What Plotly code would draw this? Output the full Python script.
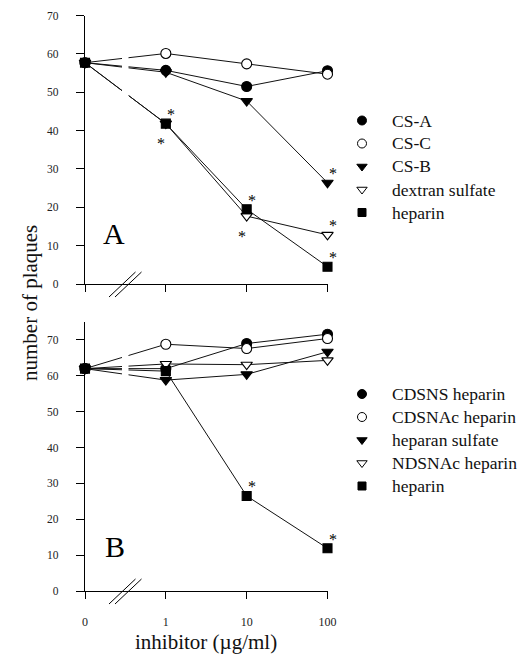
import plotly.graph_objects as go

# page offset (default body margin of the html page)
OFF = 8
W, H = 531 - OFF, 655 - OFF

# ---------------- data ----------------
x_labels = ["0", "1", "10", "100"]
y_ticks = [0, 10, 20, 30, 40, 50, 60, 70]

names_a = ["CS-A", "CS-C", "CS-B", "dextran sulfate", "heparin"]
cs_a = [57.7, 55.7, 51.5, 55.6]
cs_c = [57.7, 60.1, 57.4, 54.7]
cs_b = [57.7, 55.2, 47.7, 26.4]
dextran = [57.7, 41.8, 17.7, 12.8]
heparin_a = [57.7, 41.8, 19.5, 4.5]
values_a = [cs_a, cs_c, cs_b, dextran, heparin_a]
# significance marks: (series index, x index, side)
sig_a = [(4, 1, "up"), (3, 1, "down"), (4, 2, "up"), (3, 2, "down"),
         (2, 3, "up"), (3, 3, "up"), (4, 3, "up")]

names_b = ["CDSNS heparin", "CDSNAc heparin", "heparan sulfate", "NDSNAc heparin", "heparin"]
cdsns = [62.0, 62.0, 69.0, 71.6]
cdsnac = [62.0, 68.8, 67.6, 70.4]
heparan = [62.0, 58.8, 60.4, 66.7]
ndsnac = [62.0, 63.3, 63.1, 64.3]
heparin_b = [62.0, 61.3, 26.5, 11.9]
values_b = [cdsns, cdsnac, heparan, ndsnac, heparin_b]
sig_b = [(4, 2, "up"), (4, 3, "up")]

# ---------------- styles ----------------
FONT = "Liberation Serif, Times New Roman, serif"
symbols = ["circle", "circle", "triangle-down", "triangle-down", "square"]
fills = ["black", "white", "black", "white", "black"]
sizes = [10, 10, 10, 10, 9]


def px_x(p):
    return (p - OFF) / W


def px_y(p):
    return 1 - (p - OFF) / H


fig = go.Figure()

panels = [("x", "y", names_a, values_a, sig_a), ("x2", "y2", names_b, values_b, sig_b)]
annotations = []
for xa, ya, names, vals, sig in panels:
    for i, (nm, v) in enumerate(zip(names, vals)):
        fig.add_trace(go.Scatter(
            x=x_labels, y=v, xaxis=xa, yaxis=ya, mode="lines+markers", name=nm,
            showlegend=False, cliponaxis=False,
            line=dict(color="#111", width=1),
            marker=dict(symbol=symbols[i], size=sizes[i], color=fills[i],
                        line=dict(color="black", width=1.1)),
        ))
    for si, xi, side in sig:
        dx, dy = (5, 13) if side == "up" else (-5, -16)
        annotations.append(dict(
            x=xi, y=vals[si][xi], xref=xa, yref=ya, text="*",
            showarrow=False, xshift=dx, yshift=dy - 4,
            xanchor="center", yanchor="middle",
            font=dict(family=FONT, size=16, color="black"),
        ))

# ---------------- axes ----------------
x_dom = [px_x(85), px_x(327.5)]
common_x = dict(type="category", range=[0, 3], showline=True, linecolor="black", linewidth=1.3,
                ticks="outside", ticklen=7, tickwidth=1.2, tickcolor="black",
                showgrid=False, zeroline=False, automargin=False,
                tickfont=dict(family=FONT, size=12, color="#222"))
common_y = dict(tickvals=y_ticks, showline=True, linecolor="black", linewidth=1.3,
                ticks="outside", ticklen=8, tickwidth=1.2, tickcolor="black",
                showgrid=False, zeroline=False, ticklabelstandoff=15, automargin=False,
                ticksuffix="\u00a0\u00a0",
                tickfont=dict(family=FONT, size=11.5, color="#222"))

fig.update_layout(
    xaxis=dict(domain=x_dom, anchor="y", showticklabels=False, **common_x),
    yaxis=dict(domain=[px_y(284), px_y(15.5)], range=[0, 70], anchor="x", **common_y),
    xaxis2=dict(domain=x_dom, anchor="y2", showticklabels=True, ticklabelstandoff=12, **common_x),
    yaxis2=dict(domain=[px_y(591), px_y(322)], range=[0, 75], anchor="x2", **common_y),
    xaxis3=dict(domain=[0, 1], range=[OFF, W + OFF], visible=False, anchor="y3", automargin=False),
    yaxis3=dict(domain=[0, 1], range=[H + OFF, OFF], visible=False, anchor="x3", automargin=False),
)

# ---------------- legends (drawn manually) ----------------
leg_x_marker, leg_x_text = 362, 390
leg_rows = [(names_a, 120.5), (names_b, 394)]
leg_step = 23
for names, y0 in leg_rows:
    for i, nm in enumerate(names):
        yy = y0 + i * leg_step
        fig.add_trace(go.Scatter(
            x=[leg_x_marker], y=[yy], xaxis="x3", yaxis="y3", mode="markers",
            showlegend=False, hoverinfo="skip", cliponaxis=False,
            marker=dict(symbol=symbols[i], size=sizes[i] - 1, color=fills[i],
                        line=dict(color="black", width=1)),
        ))
        annotations.append(dict(
            x=px_x(leg_x_text), y=px_y(yy), xref="paper", yref="paper", text=nm,
            showarrow=False, xanchor="left", yanchor="middle",
            font=dict(family=FONT, size=17.5, color="#111"),
        ))

# panel letters and titles
annotations += [
    dict(x=px_x(114), y=px_y(234), xref="paper", yref="paper", text="A", showarrow=False,
         xanchor="center", yanchor="middle", font=dict(family=FONT, size=30, color="black")),
    dict(x=px_x(115), y=px_y(546), xref="paper", yref="paper", text="B", showarrow=False,
         xanchor="center", yanchor="middle", font=dict(family=FONT, size=30, color="black")),
    dict(x=px_x(30), y=px_y(303), xref="paper", yref="paper", text="number of plaques",
         showarrow=False, textangle=-90, xanchor="center", yanchor="middle",
         font=dict(family=FONT, size=21, color="#111")),
    dict(x=px_x(206), y=px_y(642), xref="paper", yref="paper", text="inhibitor (µg/ml)",
         showarrow=False, xanchor="center", yanchor="middle",
         font=dict(family=FONT, size=21, color="#111")),
]

# ---------------- decorations: axis breaks and line gaps ----------------
shapes = []
for axis_y in (284, 591):
    for x0 in (109, 115):
        shapes.append(dict(type="line", xref="paper", yref="paper",
                           x0=px_x(x0), y0=px_y(axis_y + 13), x1=px_x(x0 + 26.5), y1=px_y(axis_y - 12),
                           line=dict(color="black", width=1)))
for top, bot in ((40, 135), (328, 392)):
    shapes.append(dict(type="rect", xref="paper", yref="paper", layer="above",
                       x0=px_x(122), x1=px_x(128.5), y0=px_y(bot), y1=px_y(top),
                       fillcolor="white", line=dict(width=0)))

fig.update_layout(
    width=W, height=H, margin=dict(l=0, r=0, t=0, b=0),
    paper_bgcolor="white", plot_bgcolor="rgba(0,0,0,0)",
    showlegend=False, annotations=annotations, shapes=shapes,
    font=dict(family=FONT, color="black"),
)

fig.write_html("out.html")
